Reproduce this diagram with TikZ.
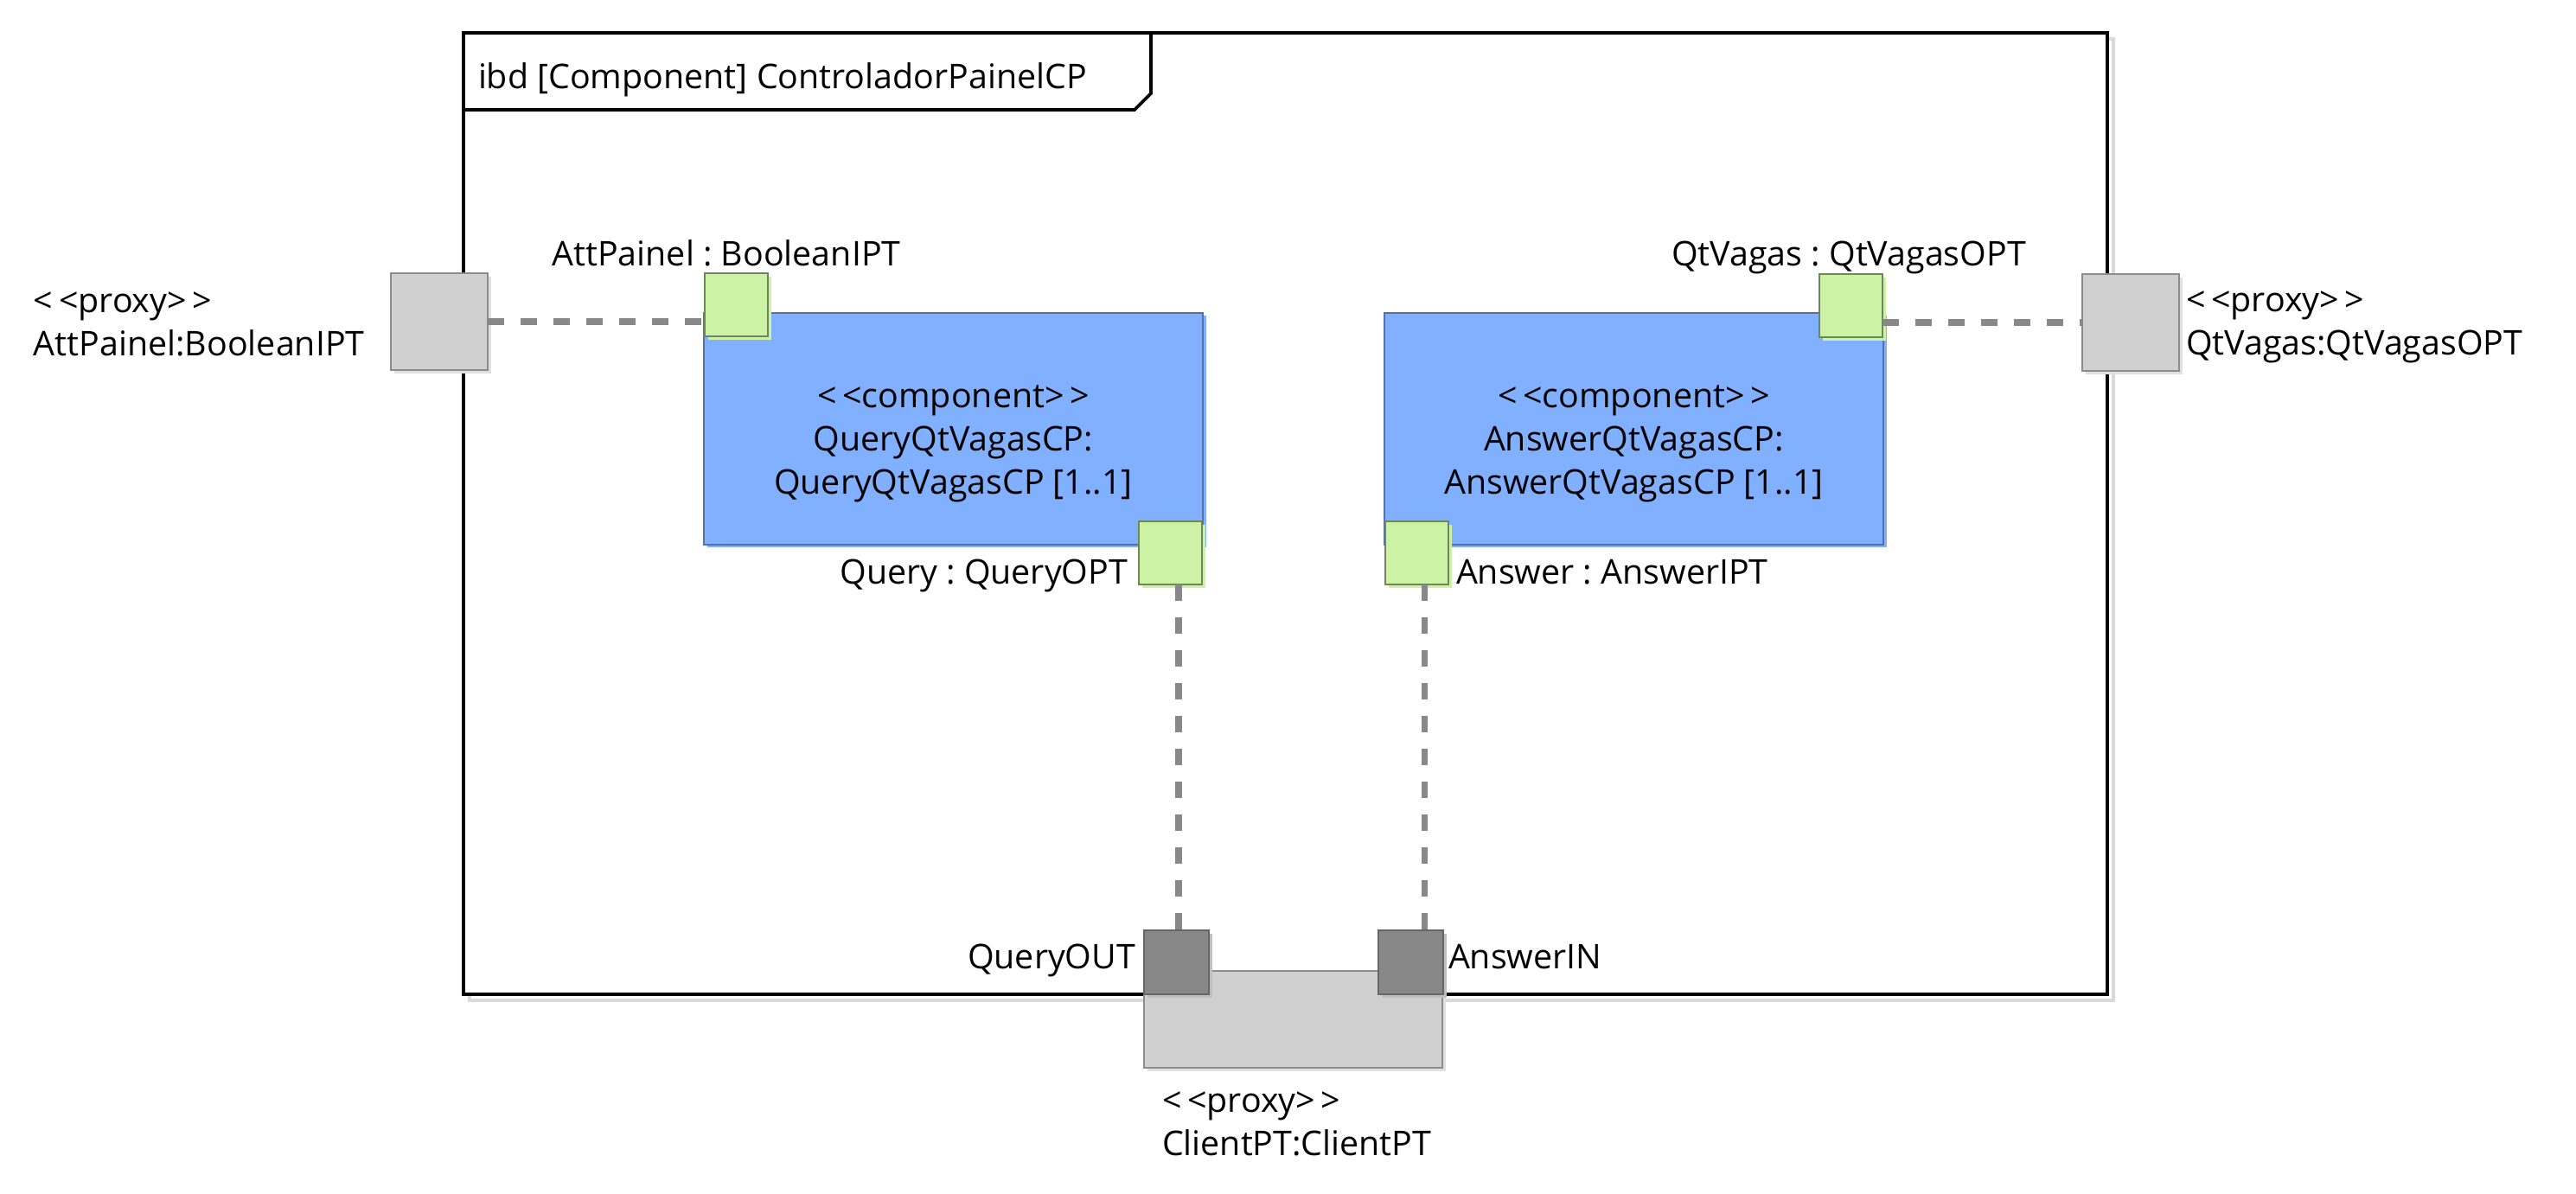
\documentclass[tikz,border=0pt]{standalone}
\usepackage{fontspec}
\setmainfont{Open Sans}
\usepackage{tikz}
\usetikzlibrary{shapes,shadows}
\usepackage{xcolor}

\definecolor{cpblue}{HTML}{80B0FF}
\definecolor{portgreen}{HTML}{CCF2A6}
\definecolor{proxygray}{HTML}{D0D0D0}
\definecolor{pingray}{HTML}{888888}

\frenchspacing

\begin{document}
\begin{tikzpicture}[scale=1]

	\tikzstyle{every node}=[font=\fontsize{11.2}{14.5}\selectfont, inner sep=0pt, outer sep=0pt]
	\tikzstyle{frame}=[draw, line width=1.1pt, fill=white, rectangle, anchor=south west, general shadow={draw=black!15, fill=white, line width=1.1pt, shadow xshift=0.07cm, shadow yshift=-0.07cm}]
	\tikzstyle{component}=[draw=black!35!cpblue, fill=cpblue, rectangle, anchor=south west, minimum width=5.77cm, minimum height=2.68cm, general shadow={fill=cpblue, shadow xshift=0.035cm, shadow yshift=-0.035cm}]
	\tikzstyle{cptext}=[align=center, font=\fontsize{11.2}{14.2}\selectfont]
	\tikzstyle{port}=[draw=black!45!portgreen, fill=portgreen, rectangle, anchor=south west, minimum width=0.73cm, minimum height=0.73cm, general shadow={fill=portgreen, shadow xshift=0.04cm, shadow yshift=-0.04cm}]
	\tikzstyle{proxy}=[draw=black!45, fill=proxygray, rectangle, anchor=south west, minimum width=1.12cm, minimum height=1.12cm, general shadow={fill=black!12, shadow xshift=0.04cm, shadow yshift=-0.04cm}]
	\tikzstyle{pin}=[draw=black!60, fill=pingray, rectangle, anchor=south west, minimum width=0.75cm, minimum height=0.74cm, general shadow={fill=black!25, shadow xshift=0.04cm, shadow yshift=-0.04cm}]
	\tikzstyle{connector}=[draw=pingray, line width=2.1pt, dash pattern=on 0.19cm off 0.19cm]

	\useasboundingbox (0,0) rectangle (29.79,13.81);

	% frame and its tab
	\node[frame, minimum width=19.01cm, minimum height=11.12cm] (frame) at (5.36,2.31) {};
	\draw[line width=1.1pt] (5.36,12.54) -- (13.12,12.54) -- (13.31,12.73) -- (13.31,13.43);
	\node[anchor=base west] (title) at (5.53,12.78) {ibd [Component] ControladorPainelCP};

	\node[component] (QueryCP) at (8.14,7.51) {};
	\node[cptext] (QueryCPText) at ([yshift=-0.17cm]QueryCP.center) {<\,<component>\,>\\QueryQtVagasCP:\\QueryQtVagasCP [1..1]};
	\node[component] (AnswerCP) at (16.01,7.51) {};
	\node[cptext] (AnswerCPText) at ([yshift=-0.17cm]AnswerCP.center) {<\,<component>\,>\\AnswerQtVagasCP:\\AnswerQtVagasCP [1..1]};

	\node[port] (AttPort) at (8.15,9.92) {};
	\node[port] (QueryPort) at (13.17,7.05) {};
	\node[port] (QtPort) at (21.04,9.91) {};
	\node[port] (AnswerPort) at (16.02,7.05) {};

	\node[anchor=base] (AttPortLbl) at (8.40,10.73) {AttPainel : BooleanIPT};
	\node[anchor=base] (QtPortLbl) at (21.38,10.73) {QtVagas : QtVagasOPT};
	\node[anchor=base east] (QueryPortLbl) at (13.04,7.05) {Query : QueryOPT};
	\node[anchor=base west] (AnswerPortLbl) at (16.84,7.05) {Answer : AnswerIPT};

	% proxy ports on the boundary
	\node[proxy] (AttProxy) at (4.52,9.53) {};
	\node[anchor=base west, align=left] (AttProxyLbl) at (0.39,9.69) {<\,<proxy>\,>\\AttPainel:BooleanIPT};

	\node[proxy] (QtProxy) at (24.08,9.52) {};
	\node[anchor=base west, align=left] (QtProxyLbl) at (25.28,9.70) {<\,<proxy>\,>\\QtVagas:QtVagasOPT};

	\node[proxy, minimum width=3.45cm] (ClientProxy) at (13.23,1.46) {};
	\node[pin] (QueryOut) at (13.23,2.31) {};
	\node[pin] (AnswerIn) at (15.94,2.31) {};
	\node[anchor=base east] (QueryOutLbl) at (13.13,2.60) {QueryOUT};
	\node[anchor=base west] (AnswerInLbl) at (16.75,2.60) {AnswerIN};
	\node[anchor=base west, align=left] (ClientProxyLbl) at (13.44,0.44) {<\,<proxy>\,>\\ClientPT:ClientPT};

	\draw[connector] (AttProxy.east) -- (AttProxy.east -| AttPort.west);
	\draw[connector] (QtPort.east |- QtProxy.west) -- (QtProxy.west);
	\draw[connector] ([xshift=0.095cm]QueryPort.south) -- ([xshift=0.095cm]QueryPort.south |- QueryOut.north);
	\draw[connector] ([xshift=0.09cm]AnswerPort.south) -- ([xshift=0.09cm]AnswerPort.south |- AnswerIn.north);

\end{tikzpicture}
\end{document}
